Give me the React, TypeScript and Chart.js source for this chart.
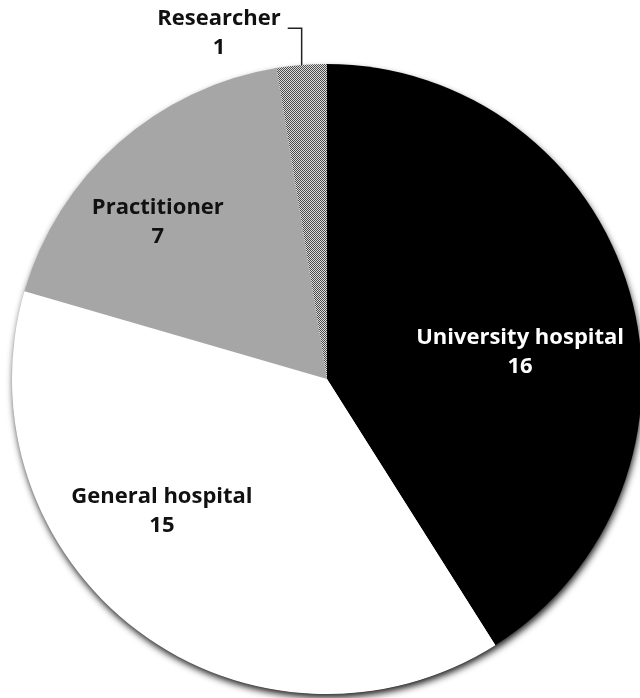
import React, { useEffect, useRef } from "react";
import { Chart, registerables } from "chart.js";

Chart.register(...registerables);

const categories = ["University hospital", "General hospital", "Practitioner", "Researcher"];
const counts = [16, 15, 7, 1];
const sliceColors = ["#000000", "#ffffff", "#a6a6a6", "pattern"];
const labelColors = ["#ffffff", "#111111", "#111111", "#111111"];
// label anchor as fraction of radius relative to pie centre
const labelAnchors = [
  [0.613, -0.086],
  [-0.524, 0.419],
  [-0.537, -0.498],
  [-0.343, -1.098],
];

const FONT = "bold 22px 'Open Sans', Lato, sans-serif";

const pieDecor = {
  id: "pieDecor",
  beforeDatasetsDraw(chart: any) {
    const meta = chart.getDatasetMeta(0);
    const arc = meta.data[0];
    if (!arc) return;
    const { x, y, outerRadius } = arc.getProps(["x", "y", "outerRadius"], true);
    const ctx = chart.ctx;
    ctx.save();
    ctx.shadowColor = "rgba(0,0,0,0.9)";
    ctx.shadowBlur = 7;
    ctx.shadowOffsetX = 1;
    ctx.shadowOffsetY = 4;
    ctx.fillStyle = "#ffffff";
    ctx.beginPath();
    ctx.arc(x, y, outerRadius - 0.5, 0, Math.PI * 2);
    ctx.fill();
    ctx.restore();
  },
  afterDatasetsDraw(chart: any) {
    const meta = chart.getDatasetMeta(0);
    const ctx = chart.ctx;
    ctx.save();
    ctx.font = FONT;
    ctx.textAlign = "center";
    ctx.textBaseline = "middle";
    meta.data.forEach((arc: any, i: number) => {
      const { x, y, outerRadius, startAngle, endAngle } = arc.getProps(
        ["x", "y", "outerRadius", "startAngle", "endAngle"],
        true
      );
      const [fx, fy] = labelAnchors[i];
      const lx = x + fx * outerRadius;
      const ly = y + fy * outerRadius;
      ctx.fillStyle = labelColors[i];
      ctx.fillText(categories[i], lx, ly - 14.5);
      ctx.fillText(String(counts[i]), lx, ly + 14.5);
      if (i === 3) {
        // leader line from label to slice edge
        const mid = (startAngle + endAngle) / 2;
        const ex = x + Math.cos(mid) * outerRadius;
        const ey = y + Math.sin(mid) * outerRadius;
        const w = ctx.measureText(categories[i]).width;
        const sx = lx + w / 2 + 7;
        const sy = ly - 5;
        ctx.strokeStyle = "#222222";
        ctx.lineWidth = 1.5;
        ctx.beginPath();
        ctx.moveTo(sx, sy);
        ctx.lineTo(ex, sy);
        ctx.lineTo(ex, ey);
        ctx.stroke();
      }
    });
    ctx.restore();
  },
};

export default function App() {
  const ref = useRef<HTMLCanvasElement | null>(null);
  useEffect(() => {
    const canvas = ref.current;
    if (!canvas) return;
    const pc = document.createElement("canvas");
    pc.width = 2;
    pc.height = 2;
    const pctx = pc.getContext("2d")!;
    pctx.fillStyle = "#dcdcdc";
    pctx.fillRect(0, 0, 2, 2);
    pctx.fillStyle = "#4a4a4a";
    pctx.fillRect(0, 0, 1, 1);
    pctx.fillRect(1, 1, 1, 1);
    const pattern = canvas.getContext("2d")!.createPattern(pc, "repeat");
    const bg = sliceColors.map((c) => (c === "pattern" ? pattern : c));

    const chart = new Chart(canvas, {
      type: "pie",
      data: {
        labels: categories,
        datasets: [
          {
            data: counts,
            backgroundColor: bg as any,
            borderWidth: 0,
            hoverOffset: 0,
          },
        ],
      },
      options: {
        responsive: false,
        animation: false,
        layout: { padding: { left: 12, top: 64, right: 18, bottom: 4 } },
        plugins: {
          legend: { display: false },
          tooltip: { enabled: false },
        },
      },
      plugins: [pieDecor],
    });
    return () => chart.destroy();
  }, []);

  return (
    <div
      style={{
        position: "fixed",
        left: 0,
        top: 0,
        width: 640,
        height: 698,
        overflow: "hidden",
        background: "#ffffff",
      }}
    >
      <canvas ref={ref} width={660} height={698} style={{ display: "block" }} />
    </div>
  );
}
